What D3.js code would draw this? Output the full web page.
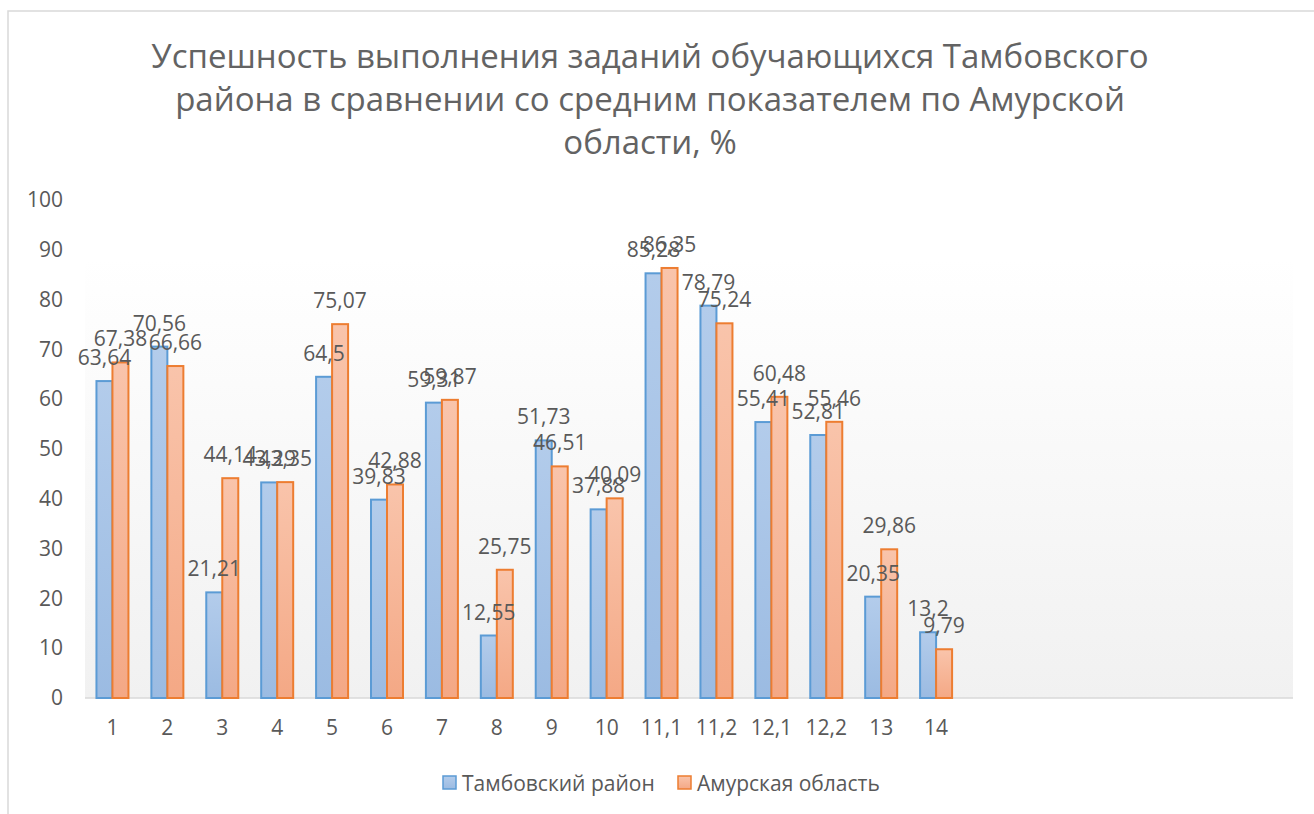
<!DOCTYPE html>
<html>
<head>
<meta charset="utf-8">
<script src="https://cdn.jsdelivr.net/npm/d3@7"></script>
<style>
  body { margin: 0; background: #fff; }
  text { font-family: "Open Sans", sans-serif; fill: #595959; }
</style>
</head>
<body>
<div class="chart"></div>
<script>
var svgWidth = 1314;
var svgHeight = 814;

// data
var categories = ["1", "2", "3", "4", "5", "6", "7", "8", "9", "10", "11,1", "11,2", "12,1", "12,2", "13", "14"];
var tambovValues = [63.64, 70.56, 21.21, 43.29, 64.5, 39.83, 59.31, 12.55, 51.73, 37.88, 85.28, 78.79, 55.41, 52.81, 20.35, 13.2];
var amurValues = [67.38, 66.66, 44.14, 43.35, 75.07, 42.88, 59.87, 25.75, 46.51, 40.09, 86.35, 75.24, 60.48, 55.46, 29.86, 9.79];
var seriesNames = ["Тамбовский район", "Амурская область"];
var yTicks = [0, 10, 20, 30, 40, 50, 60, 70, 80, 90, 100];
var titleLines = [
  "Успешность выполнения заданий обучающихся Тамбовского",
  "района в сравнении со средним показателем по Амурской",
  "области, %"
];
var slotCount = 22; // the axis keeps empty slots on the right

var plot = { left: 85, right: 1293, top: 200, bottom: 698 };
var barW = 16;

var svg = d3.select(".chart")
  .append("svg")
  .attr("width", svgWidth)
  .attr("height", svgHeight);

var defs = svg.append("defs");

function vGrad(id, top, bottom) {
  var g = defs.append("linearGradient")
    .attr("id", id)
    .attr("x1", 0).attr("y1", 0).attr("x2", 0).attr("y2", 1);
  g.append("stop").attr("offset", "0%").attr("stop-color", top);
  g.append("stop").attr("offset", "100%").attr("stop-color", bottom);
}
vGrad("plotBg", "#ffffff", "#f1f1f1");
vGrad("blueFill", "#b3cceb", "#9bbbe2");
vGrad("orangeFill", "#f9c4ab", "#f4a885");

// chart border
svg.append("rect")
  .attr("x", 8).attr("y", 11)
  .attr("width", 1320).attr("height", 820)
  .attr("fill", "none")
  .attr("stroke", "#d9d9d9")
  .attr("stroke-width", 1.5);

// plot area background
svg.append("rect")
  .attr("x", plot.left).attr("y", 258)
  .attr("width", plot.right - plot.left)
  .attr("height", plot.bottom - 258)
  .attr("fill", "url(#plotBg)");

// title
var title = svg.append("text")
  .attr("text-anchor", "middle")
  .style("font-size", "33px")
  .style("fill", "#636363");
title.selectAll("tspan")
  .data(titleLines)
  .enter()
  .append("tspan")
  .attr("x", 650)
  .attr("y", (d, i) => 68 + i * 43)
  .text(d => d);

// scales
var xScale = d3.scaleBand()
  .domain(d3.range(slotCount))
  .range([plot.left, plot.right]);

var yScale = d3.scaleLinear()
  .domain([0, 100])
  .range([plot.bottom, plot.top]);

// axes
var leftAxis = d3.axisLeft(yScale)
  .tickValues(yTicks)
  .tickSize(0)
  .tickPadding(22);

var yAxisG = svg.append("g")
  .attr("transform", `translate(${plot.left}, 0)`)
  .call(leftAxis);
yAxisG.select(".domain").remove();
yAxisG.selectAll("text")
  .style("font-size", "21px")
  .attr("fill", "#595959")
  .style("font-family", "'Open Sans', sans-serif");

var bottomAxis = d3.axisBottom(xScale)
  .tickSize(0)
  .tickPadding(22)
  .tickFormat(i => categories[i] || "");

var xAxisG = svg.append("g")
  .attr("transform", `translate(0, ${plot.bottom})`)
  .call(bottomAxis);
xAxisG.select(".domain").remove();
xAxisG.selectAll("text")
  .style("font-size", "21px")
  .attr("fill", "#595959")
  .style("font-family", "'Open Sans', sans-serif");

// baseline
svg.append("line")
  .attr("x1", plot.left).attr("x2", plot.right)
  .attr("y1", plot.bottom).attr("y2", plot.bottom)
  .attr("stroke", "#d9d9d9")
  .attr("stroke-width", 1.5);

// bars
var series = [
  { values: tambovValues, fill: "url(#blueFill)", stroke: "#5b9bd5", offset: -barW },
  { values: amurValues, fill: "url(#orangeFill)", stroke: "#ed7d31", offset: 0 }
];

function center(i) { return xScale(i) + xScale.bandwidth() / 2; }

series.forEach(function (s) {
  var g = svg.append("g");
  g.selectAll("rect")
    .data(s.values)
    .enter()
    .append("rect")
    .attr("x", (d, i) => center(i) + s.offset)
    .attr("y", d => yScale(d))
    .attr("width", barW)
    .attr("height", d => plot.bottom - yScale(d))
    .attr("fill", s.fill)
    .attr("stroke", s.stroke)
    .attr("stroke-width", 2);
});

// data labels (drawn after all bars)
series.forEach(function (s) {
  svg.append("g").selectAll("text")
    .data(s.values)
    .enter()
    .append("text")
    .attr("x", (d, i) => center(i) + s.offset + barW / 2)
    .attr("y", d => yScale(d) - 16)
    .attr("text-anchor", "middle")
    .style("font-size", "21px")
    .text(d => String(d).replace(".", ","));
});

// legend
var legend = svg.append("g");
var legendX = [443, 678];
seriesNames.forEach(function (name, i) {
  legend.append("rect")
    .attr("x", legendX[i]).attr("y", 776)
    .attr("width", 13).attr("height", 13)
    .attr("fill", series[i].fill)
    .attr("stroke", series[i].stroke)
    .attr("stroke-width", 1.5);
  legend.append("text")
    .attr("x", legendX[i] + 19)
    .attr("y", 791)
    .style("font-size", "21px")
    .text(name);
});
</script>
</body>
</html>
